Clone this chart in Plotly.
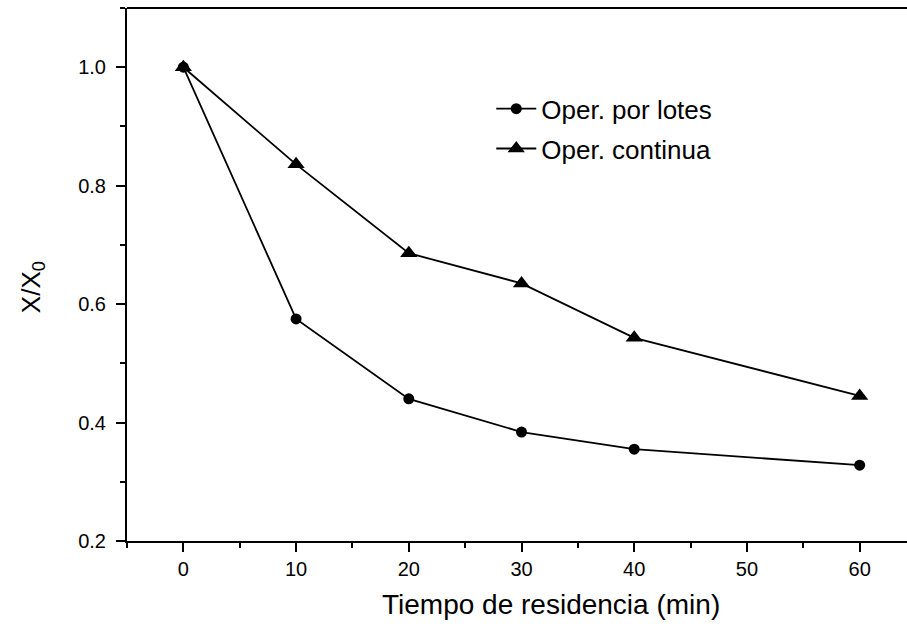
import plotly.graph_objects as go

tiempo = [0, 10, 20, 30, 40, 60]
lotes = [1.0, 0.575, 0.440, 0.384, 0.355, 0.328]
continua = [1.0, 0.836, 0.686, 0.635, 0.543, 0.445]

x_ticks = [0, 10, 20, 30, 40, 50, 60]
y_ticks = [0.2, 0.4, 0.6, 0.8, 1.0]
y_ticklabels = ["0.2", "0.4", "0.6", "0.8", "1.0"]

FONT = "Liberation Sans, Arial, sans-serif"

fig = go.Figure()
fig.add_trace(go.Scatter(
    x=tiempo, y=lotes, mode="lines+markers", name="Oper. por lotes",
    line=dict(color="black", width=1.8),
    marker=dict(symbol="circle", size=11, color="black"),
    legendgroup="a",
))
fig.add_trace(go.Scatter(
    x=tiempo, y=continua, mode="lines+markers", name="Oper. continua",
    line=dict(color="black", width=1.8),
    marker=dict(symbol="triangle-up", size=15, color="black"),
    legendgroup="b",
))

fig.update_layout(
    width=907, height=626,
    paper_bgcolor="white", plot_bgcolor="white",
    margin=dict(l=127, r=0, t=8, b=85),
    font=dict(family=FONT, color="black"),
    showlegend=True,
    legend=dict(
        x=0.467, y=0.855, xanchor="left", yanchor="top",
        bgcolor="rgba(0,0,0,0)", font=dict(size=26, family=FONT),
        tracegroupgap=3, itemwidth=40,
    ),
    xaxis=dict(
        range=[-5, 64.2], tickmode="array", tickvals=x_ticks,
        ticks="outside", ticklen=9, tickwidth=2, tickcolor="black",
        showline=True, linecolor="black", linewidth=2,
        showgrid=False, zeroline=False,
        tickfont=dict(size=20), ticklabelstandoff=0,
        minor=dict(dtick=5, tick0=-5, ticks="outside", ticklen=5, tickwidth=2, tickcolor="black", showgrid=False),
    ),
    yaxis=dict(
        range=[0.2, 1.1], tickmode="array", tickvals=y_ticks, ticktext=y_ticklabels,
        ticks="outside", ticklen=9, tickwidth=2, tickcolor="black",
        showline=True, linecolor="black", linewidth=2,
        showgrid=False, zeroline=False,
        tickfont=dict(size=20), ticklabelstandoff=6,
        minor=dict(dtick=0.1, tick0=0.2, ticks="outside", ticklen=5, tickwidth=2, tickcolor="black", showgrid=False),
    ),
    shapes=[dict(type="line", xref="paper", yref="paper", x0=0, x1=1, y0=1, y1=1,
                 line=dict(color="black", width=2))],
    annotations=[
        dict(
            text="X/X<sub>0</sub>", xref="paper", yref="paper", x=-0.122, y=0.476,
            xanchor="center", yanchor="middle", textangle=-90, showarrow=False,
            font=dict(size=26, family=FONT),
        ),
        dict(
            text="Tiempo de residencia (min)", xref="paper", yref="paper",
            x=0.5436, y=-0.12, xanchor="center", yanchor="middle", showarrow=False,
            font=dict(size=28, family=FONT),
        ),
    ],
)

fig.write_html("out.html", config={"displayModeBar": False},
               post_script="document.body.style.margin='0';")
